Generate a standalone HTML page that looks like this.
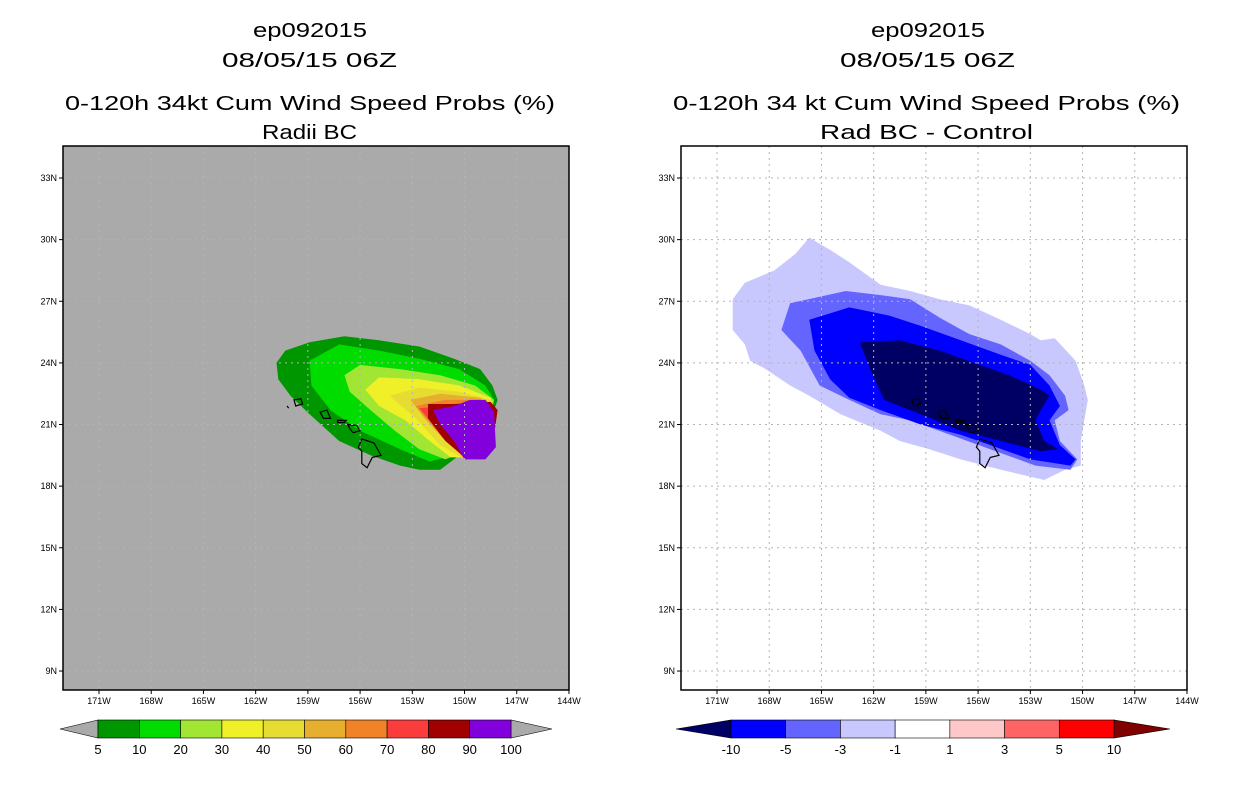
<!DOCTYPE html>
<html><head><meta charset="utf-8">
<style>
body{margin:0;background:#fff;width:1236px;height:800px;overflow:hidden;font-family:"Liberation Sans",sans-serif}
svg text{font-family:"Liberation Sans",sans-serif}
</style></head>
<body>
<svg id="s" width="1236" height="800">
<text x="253" y="37" font-size="20" textLength="114" lengthAdjust="spacingAndGlyphs">ep092015</text>
<text x="222" y="67" font-size="20" textLength="175" lengthAdjust="spacingAndGlyphs">08/05/15 06Z</text>
<text x="65" y="110" font-size="20" textLength="490" lengthAdjust="spacingAndGlyphs">0-120h 34kt Cum Wind Speed Probs (%)</text>
<text x="262" y="139" font-size="20" textLength="95" lengthAdjust="spacingAndGlyphs">Radii BC</text>
<text x="871" y="37" font-size="20" textLength="114" lengthAdjust="spacingAndGlyphs">ep092015</text>
<text x="840" y="67" font-size="20" textLength="175" lengthAdjust="spacingAndGlyphs">08/05/15 06Z</text>
<text x="673" y="110" font-size="20" textLength="507" lengthAdjust="spacingAndGlyphs">0-120h 34 kt Cum Wind Speed Probs (%)</text>
<text x="820" y="139" font-size="20" textLength="213" lengthAdjust="spacingAndGlyphs">Rad BC - Control</text>
</svg>
<script>
// axes: lon in degrees West, lat in degrees North
const lonTicks=[171,168,165,162,159,156,153,150,147,144];
const latTicks=[33,30,27,24,21,18,15,12,9];
const leftLevels=[5,10,20,30,40,50,60,70,80,90,100];
const leftColors=["#009600","#00dc00","#a0e632","#f0f028","#e6dc32","#e6af2d","#f08228","#fa3c3c","#a00000","#8200dc"];
const rightLevels=["-10","-5","-3","-1","1","3","5","10"];
const rightColors=["#0000ff","#6464ff","#c8c8ff","#ffffff","#ffc8c8","#ff6464","#ff0000"];
// left contours (lonW, latN)
const L5=[[160.8,24.0],[160.3,24.6],[158.9,25.0],[156.9,25.3],[154.9,25.1],[152.6,24.8],[150.6,24.2],[149.1,23.7],[148.4,22.9],[148.1,22.2],[148.5,21.2],[149.1,20.5],[150.3,19.5],[151.4,18.8],[152.6,18.8],[153.7,19.0],[155.4,19.5],[157.2,20.2],[158.9,21.5],[160.0,22.4],[160.7,23.2]];
const L10=[[158.9,24.1],[157.2,24.9],[154.9,24.6],[152.6,24.2],[150.3,23.7],[148.8,22.9],[148.3,22.2],[148.7,21.2],[149.4,20.2],[150.6,19.5],[152.0,19.2],[153.7,19.8],[156.0,20.7],[157.7,21.7],[158.8,22.9]];
const L20=[[156.9,23.4],[156.0,23.9],[153.7,23.7],[151.4,23.4],[149.4,22.9],[148.3,22.2],[148.7,20.7],[149.7,19.8],[151.1,19.3],[152.6,19.8],[154.0,20.7],[155.4,21.7],[156.6,22.6]];
const L30=[[155.7,22.7],[154.9,23.3],[152.6,23.2],[150.3,22.9],[148.5,22.3],[148.3,21.7],[148.8,20.2],[149.7,19.4],[150.8,19.4],[152.0,20.2],[153.4,21.2],[154.9,21.9]];
const L40=[[154.3,22.4],[152.6,22.8],[150.3,22.6],[148.5,22.2],[148.8,20.2],[150.0,19.3],[151.4,20.0],[152.8,21.3]];
const L50=[[153.1,22.2],[151.4,22.5],[149.1,22.3],[148.5,21.7],[149.1,20.0],[149.7,19.4],[151.1,20.2],[152.3,21.3]];
const L60=[[152.8,21.9],[151.1,22.2],[148.8,22.2],[148.4,21.7],[149.4,19.4],[151.1,20.2]];
const L70=[[152.6,21.8],[150.8,21.9],[148.8,22.2],[148.3,21.7],[148.8,19.8],[150.0,19.3],[150.8,20.2],[152.1,21.3]];
const L80=[[152.1,22.0],[150.6,22.0],[148.5,22.1],[148.1,21.7],[148.4,19.9],[149.1,19.3],[150.0,19.4],[151.1,20.2],[152.1,21.3]];
const L90=[[151.8,21.7],[150.6,21.9],[149.7,22.2],[148.8,22.2],[148.3,21.6],[148.2,19.9],[148.8,19.3],[150.0,19.3],[150.6,20.2],[151.4,21.0]];
// right contours
const R1=[[170.1,27.1],[169.4,27.9],[167.7,28.5],[166.5,29.3],[165.7,30.1],[164.5,29.5],[163.4,28.9],[161.6,27.8],[159.9,27.5],[158.2,27.1],[156.5,26.8],[154.7,26.1],[153.0,25.4],[152.4,25.1],[151.6,25.2],[150.4,24.1],[149.9,22.9],[149.7,22.2],[149.9,21.2],[150.1,20.2],[150.1,19.0],[151.0,18.8],[152.2,18.3],[154.7,18.8],[157.0,19.3],[158.8,19.8],[160.5,20.2],[161.6,20.7],[163.9,21.5],[165.7,22.4],[166.8,22.9],[168.2,23.7],[169.1,24.1],[169.4,24.9],[170.1,25.6]];
const R3=[[166.8,26.9],[163.6,27.5],[161.6,27.3],[159.9,27.1],[158.2,26.2],[156.5,25.4],[154.7,24.9],[153.0,24.1],[151.9,23.4],[151.0,22.4],[150.8,21.7],[151.6,21.2],[151.3,20.2],[150.3,19.3],[150.7,18.8],[152.7,19.0],[155.3,19.8],[157.6,20.5],[159.9,21.2],[161.6,21.5],[163.4,22.2],[165.1,22.9],[166.2,24.6],[167.3,25.6]];
const R5=[[165.7,26.1],[163.4,26.7],[161.1,26.3],[159.3,25.8],[157.0,25.1],[154.7,24.4],[153.0,23.9],[151.9,22.9],[151.3,21.9],[151.9,21.2],[151.3,20.0],[150.4,19.3],[150.7,19.0],[153.0,19.3],[155.3,20.0],[157.0,20.5],[159.3,21.0],[161.6,21.7],[163.4,22.3],[164.5,23.2],[165.4,24.6]];
const R10=[[162.8,25.0],[160.5,25.1],[158.2,24.6],[155.9,23.9],[154.2,23.4],[152.4,22.7],[151.9,22.4],[152.4,21.7],[152.7,21.2],[152.2,20.2],[151.4,19.8],[152.4,19.7],[154.7,20.2],[157.0,20.7],[159.3,21.5],[161.4,22.2],[162.2,23.7]];
const islands=[
 [[155.9,20.3],[155.2,20.1],[154.8,19.5],[155.3,19.4],[155.6,18.9],[155.9,19.1],[155.9,19.7],[156.1,19.9]],
 [[156.7,21.0],[156.2,20.95],[156.0,20.7],[156.4,20.6],[156.6,20.8]],
 [[157.3,21.1],[156.9,21.1],[156.8,21.2],[157.3,21.2]],
 [[158.3,21.6],[157.9,21.7],[157.7,21.3],[158.1,21.3]],
 [[159.8,22.2],[159.4,22.25],[159.3,22.0],[159.7,21.9]],
 [[160.2,21.9],[160.1,21.8]]
];
const NS="http://www.w3.org/2000/svg";
const svg=document.getElementById('s');
function mk(t,a,p){const e=document.createElementNS(NS,t);for(const k in a)e.setAttribute(k,a[k]);(p||svg).appendChild(e);return e;}
function xs(x0){return lon=>x0+(171-lon)*52.22/3;}
function ys(lat){return 178+(33-lat)*61.63/3;}
function panel(x0,bg,contours,colors,name){
  const X=xs(x0+36);
  const g=mk('g',{});
  
  
  const cp=mk('clipPath',{id:'c'+name},g);mk('rect',{x:x0,y:146,width:506,height:544},cp);
  const bgr=mk('rect',{x:x0,y:146,width:506,height:544,fill:bg},g);
  
  
  const cg=mk('g',{'clip-path':'url(#c'+name+')'},g);
  contours.forEach((c,i)=>{
    const p=mk('polygon',{points:c.map(q=>X(q[0]).toFixed(1)+','+ys(q[1]).toFixed(1)).join(' '),fill:colors[i]},cg);
    
    
  });
  islands.forEach(isl=>{
    const p=mk('polygon',{points:isl.map(q=>X(q[0]).toFixed(1)+','+ys(q[1]).toFixed(1)).join(' '),fill:'none',stroke:'#000','stroke-width':1.2},cg);
    
    
  });
  lonTicks.forEach(l=>{
    const x=X(l);
    const gl=mk('line',{x1:x,x2:x,y1:146,y2:690,stroke:'#b4b4b4','stroke-dasharray':'2,4'},cg);
    
    
    mk('line',{x1:x,x2:x,y1:690,y2:694,stroke:'#000'},g);
    const t=mk('text',{x:x,y:704,'font-size':9,'text-anchor':'middle'},g);t.textContent=l+'W';
    
    
  });
  latTicks.forEach(l=>{
    const y=ys(l);
    const gl=mk('line',{x1:x0,x2:x0+506,y1:y,y2:y,stroke:'#b4b4b4','stroke-dasharray':'2,4'},cg);
    
    
    mk('line',{x1:x0-4,x2:x0,y1:y,y2:y,stroke:'#000'},g);
    const t=mk('text',{x:x0-6,y:y+3,'font-size':9,'text-anchor':'end'},g);t.textContent=l+'N';
    
    
  });
  const fr=mk('rect',{x:x0,y:146,width:506,height:544,fill:'none',stroke:'#000','stroke-width':1.5},g);
  
  
}
panel(63,'#aaaaaa',[L5,L10,L20,L30,L40,L50,L60,L70,L80,L90],leftColors,'left-map');
panel(681,'#ffffff',[R1,R3,R5,R10],['#c8c8ff','#6464ff','#0000ff','#000064'],'right-map');

function colorbar(xa,xb,tipL,tipR,colors,labels,lowColor,highColor,name){
  const g=mk('g',{});
  
  
  const n=colors.length,w=(xb-xa)/n;
  let p=mk('polygon',{points:`${xa},720 ${xa},738 ${tipL},729`,fill:lowColor,stroke:'#000','stroke-width':0.6},g);
  
  
  p=mk('polygon',{points:`${xb},720 ${xb},738 ${tipR},729`,fill:highColor,stroke:'#000','stroke-width':0.6},g);
  
  
  colors.forEach((c,i)=>{
    const r=mk('rect',{x:xa+i*w,y:720,width:w,height:18,fill:c,stroke:'#000','stroke-width':0.6},g);
    
    
  });
  labels.forEach((l,i)=>{
    const t=mk('text',{x:xa+i*w,y:754,'font-size':13,'text-anchor':'middle'},g);t.textContent=l;
    
    
  });
}
colorbar(98,511,60,552,leftColors,leftLevels,'#aaaaaa','#aaaaaa','left-colorbar');
colorbar(731,1114,676,1170,rightColors,rightLevels,'#000064','#800000','right-colorbar');
</script>
</body></html>
